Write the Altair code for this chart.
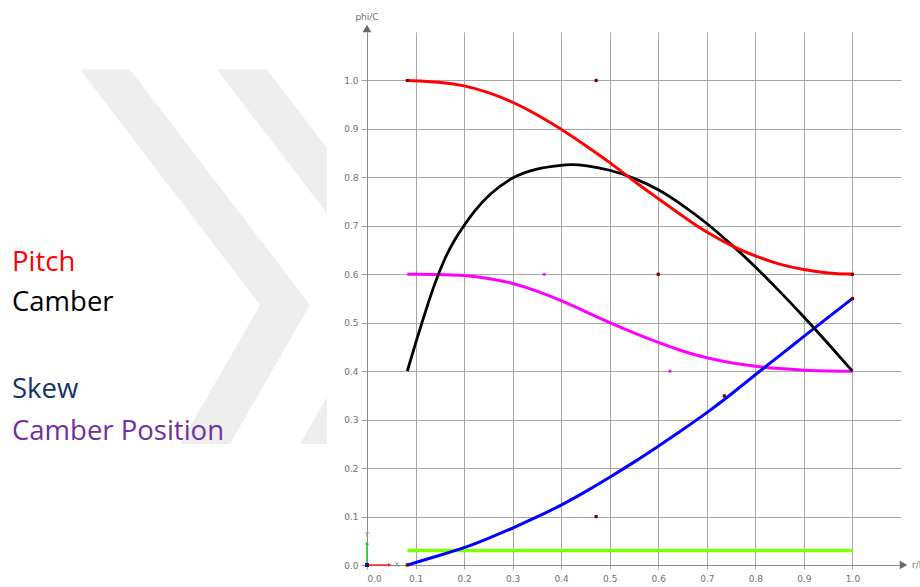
import altair as alt
import pandas as pd

# ---- blade distributions along r/R (vertical axis: phi/C) ----
PITCH_R = [0.083, 0.15, 0.2, 0.25, 0.3, 0.35, 0.4, 0.45, 0.5, 0.55, 0.6, 0.65, 0.7, 0.75, 0.8, 0.85, 0.9, 0.95, 1.0]
PITCH = [1.0, 0.997, 0.990, 0.976, 0.956, 0.930, 0.900, 0.866, 0.831, 0.792, 0.756, 0.720, 0.686, 0.659, 0.637, 0.620, 0.609, 0.602, 0.600]

CAMBER_R = [0.083, 0.1, 0.12, 0.14, 0.16, 0.18, 0.2, 0.22, 0.25, 0.3, 0.35, 0.4, 0.42, 0.45,
            0.5, 0.55, 0.6, 0.65, 0.7, 0.75, 0.8, 0.85, 0.9, 0.95, 1.0]
CAMBER = [0.400, 0.458, 0.522, 0.583, 0.633, 0.671, 0.701, 0.729, 0.764, 0.802, 0.819, 0.825, 0.827, 0.825,
          0.816, 0.799, 0.776, 0.743, 0.706, 0.662, 0.616, 0.565, 0.512, 0.457, 0.400]

CAMBER_POS_R = [0.083, 0.15, 0.2, 0.25, 0.3, 0.35, 0.4, 0.45, 0.5, 0.55, 0.6, 0.65, 0.7, 0.75, 0.8, 0.85, 0.9, 0.95, 1.0]
CAMBER_POS = [0.600, 0.600, 0.598, 0.592, 0.582, 0.566, 0.546, 0.523, 0.500, 0.479, 0.459, 0.441, 0.427, 0.417, 0.410, 0.405, 0.402, 0.400, 0.400]

SKEW_R = [0.083, 0.1, 0.15, 0.2, 0.25, 0.3, 0.35, 0.4, 0.45, 0.5, 0.55, 0.6, 0.65, 0.7, 0.75, 0.8, 0.85, 0.9, 0.95, 1.0]
SKEW = [0.000, 0.005, 0.020, 0.035, 0.055, 0.076, 0.099, 0.123, 0.151, 0.181, 0.212, 0.245, 0.279, 0.314, 0.352, 0.393, 0.432, 0.472, 0.511, 0.550]

RAKE_R = [0.083, 1.0]
RAKE = [0.03, 0.03]

# spline handles and end points
HANDLE_R = [0.472, 0.6, 0.472, 0.736, 0.083, 1.0, 0.083, 1.0]
HANDLE = [1.0, 0.6, 0.1, 0.349, 1.0, 0.6, 0.0, 0.55]
POS_HANDLE_R = [0.365, 0.624]
POS_HANDLE = [0.6, 0.4]

TICKS = [0.0, 0.1, 0.2, 0.3, 0.4, 0.5, 0.6, 0.7, 0.8, 0.9, 1.0]
LEGEND = ["Pitch", "Camber", "Skew", "Camber Position"]

# ---- layout (pixels) ----
LEFT, TOP, WIDTH, HEIGHT = 367, 32, 534, 533
TOTAL_W, TOTAL_H = 920, 587

X_DATA = alt.Scale(domain=[0, 1.1], nice=False, zero=False)
Y_DATA = alt.Scale(domain=[0, 1.1], nice=False, zero=False)
PX_X = alt.Scale(domain=[LEFT, LEFT + WIDTH], nice=False, zero=False)
PX_Y = alt.Scale(domain=[TOP, TOP + HEIGHT], reverse=True, nice=False, zero=False)

AXIS_STYLE = dict(values=TICKS, format=".1f", title=None, grid=True, gridColor="#a6a6a6", gridWidth=1,
                  domainColor="#8c8c8c", tickColor="#a0a0a0", labelColor="#707070",
                  labelFont="DejaVu Sans", labelFontSize=9)
X_AXIS = alt.Axis(**AXIS_STYLE, tickSize=4, labelPadding=5)
Y_AXIS = alt.Axis(**AXIS_STYLE, tickSize=6, labelPadding=3)


def frame(xs, ys):
    return pd.DataFrame({"r": xs, "v": ys})


def curve(xs, ys, color, width=3.0, axes=False):
    return alt.Chart(frame(xs, ys)).mark_line(
        color=color, strokeWidth=width, interpolate="basis"
    ).encode(
        x=alt.X("r:Q", scale=X_DATA, axis=X_AXIS if axes else None),
        y=alt.Y("v:Q", scale=Y_DATA, axis=Y_AXIS if axes else None),
    )


def px_enc(xcol="px", ycol="py"):
    return dict(x=alt.X(f"{xcol}:Q", scale=PX_X, axis=None),
                y=alt.Y(f"{ycol}:Q", scale=PX_Y, axis=None))


# faint double-chevron watermark behind the legend (clipped where the plot begins)
WM = "#eeeeee"
chevron_a = pd.DataFrame({"py": [69.5, 305, 444], "x0": [80, 260, 180], "x1": [130, 310, 230]})
chevron_b_top = pd.DataFrame({"py": [69.5, 148, 213.4], "x0": [217, 277, 327], "x1": [267, 327, 327]})
chevron_b_low = pd.DataFrame({"py": [397, 444], "x0": [327, 300], "x1": [327, 327]})
watermark = [
    alt.Chart(d).mark_area(orient="horizontal", color=WM).encode(
        y=alt.Y("py:Q", scale=PX_Y, axis=None),
        x=alt.X("x0:Q", scale=PX_X, axis=None),
        x2="x1:Q",
    )
    for d in (chevron_a, chevron_b_top, chevron_b_low)
]

# legend text on the left
LEGEND_COLORS = ["#ff0000", "#000000", "#17326b", "#7030a0"]
LEGEND_BASELINES = [271, 311, 398, 439.5]
legend = [
    alt.Chart(pd.DataFrame({"px": [12], "py": [b], "t": [name]})).mark_text(
        align="left", baseline="alphabetic", font="Open Sans", fontSize=27.5, color=c
    ).encode(text="t:N", **px_enc())
    for name, c, b in zip(LEGEND, LEGEND_COLORS, LEGEND_BASELINES)
]

# curves
curves = [
    curve(RAKE_R, RAKE, "#80ff00", 3.5, axes=True),
    curve(CAMBER_POS_R, CAMBER_POS, "#ff00ff"),
    curve(SKEW_R, SKEW, "#0000ff"),
    curve(CAMBER_R, CAMBER, "#000000", 2.8),
    curve(PITCH_R, PITCH, "#ff0000"),
]

handles = alt.Chart(frame(HANDLE_R, HANDLE)).mark_square(size=10, color="#7a0000", opacity=1).encode(
    x=alt.X("r:Q", scale=X_DATA, axis=None), y=alt.Y("v:Q", scale=Y_DATA, axis=None))
pos_handles = alt.Chart(frame(POS_HANDLE_R, POS_HANDLE)).mark_circle(size=10, color="#ff00ff", opacity=1).encode(
    x=alt.X("r:Q", scale=X_DATA, axis=None), y=alt.Y("v:Q", scale=Y_DATA, axis=None))

# axis arrow heads and titles
AX = "#6a6a6a"
arrow_up = alt.Chart(pd.DataFrame({"px": [LEFT], "py": [28.5]})).mark_point(
    shape="triangle-up", filled=True, size=75, color=AX, opacity=1).encode(**px_enc())
arrow_right = alt.Chart(pd.DataFrame({"px": [903.5], "py": [TOP + HEIGHT]})).mark_point(
    shape="triangle-right", filled=True, size=75, color=AX, opacity=1).encode(**px_enc())
y_title = alt.Chart(pd.DataFrame({"px": [LEFT], "py": [20], "t": ["phi/C"]})).mark_text(
    align="center", baseline="alphabetic", font="DejaVu Sans", fontSize=9, color="#707070"
).encode(text="t:N", **px_enc())
x_title = alt.Chart(pd.DataFrame({"px": [912], "py": [TOP + HEIGHT], "t": ["r/R"]})).mark_text(
    align="left", baseline="middle", font="DejaVu Sans", fontSize=9, color="#707070"
).encode(text="t:N", **px_enc())

# small coordinate gizmo at the origin
O_X, O_Y = LEFT, TOP + HEIGHT
gizmo = [
    alt.Chart(pd.DataFrame({"px": [O_X], "py": [O_Y], "py2": [O_Y - 22]})).mark_rule(
        color="#22cc22", strokeWidth=1.5).encode(x=alt.X("px:Q", scale=PX_X, axis=None),
                                                 y=alt.Y("py:Q", scale=PX_Y, axis=None), y2="py2:Q"),
    alt.Chart(pd.DataFrame({"px": [O_X], "py": [O_Y - 22]})).mark_point(
        shape="triangle-up", filled=True, size=18, color="#22cc22", opacity=1).encode(**px_enc()),
    alt.Chart(pd.DataFrame({"px": [O_X], "px2": [O_X + 22], "py": [O_Y]})).mark_rule(
        color="#ff2222", strokeWidth=1.5).encode(x=alt.X("px:Q", scale=PX_X, axis=None), x2="px2:Q",
                                                 y=alt.Y("py:Q", scale=PX_Y, axis=None)),
    alt.Chart(pd.DataFrame({"px": [O_X + 23], "py": [O_Y]})).mark_point(
        shape="triangle-right", filled=True, size=18, color="#ff2222", opacity=1).encode(**px_enc()),
    alt.Chart(pd.DataFrame({"px": [O_X], "py": [O_Y]})).mark_square(
        size=16, color="#1010a0", opacity=1).encode(**px_enc()),
    alt.Chart(pd.DataFrame({"px": [O_X, O_X + 30], "py": [O_Y - 30, O_Y], "t": ["Y", "X"]})).mark_text(
        font="DejaVu Sans", fontSize=7, color="#808080", align="center", baseline="middle"
    ).encode(text="t:N", **px_enc()),
]

chart = alt.layer(
    *watermark, *curves, handles, pos_handles, arrow_up, arrow_right, y_title, x_title, *gizmo, *legend
).resolve_scale(
    x="independent", y="independent"
).properties(
    width=WIDTH, height=HEIGHT,
    autosize=alt.AutoSizeParams(type="none"),
    padding={"left": LEFT, "top": TOP, "right": TOTAL_W - LEFT - WIDTH, "bottom": TOTAL_H - TOP - HEIGHT},
    background="white",
).configure_view(strokeWidth=0)

chart.save("out.html", embed_options={"renderer": "svg", "actions": False})
